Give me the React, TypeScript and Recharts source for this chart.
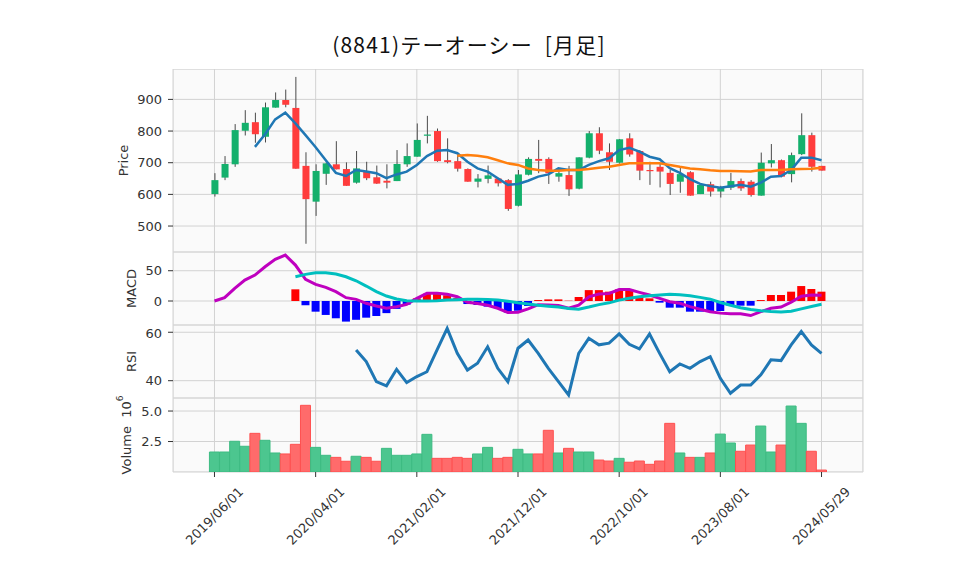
import React from 'react';
import { ComposedChart, Bar, Line, XAxis, YAxis, CartesianGrid, Cell } from 'recharts';

const DATES = [
  '2019/06/01','2019/07/01','2019/08/01','2019/09/01','2019/10/01','2019/11/01','2019/12/01',
  '2020/01/01','2020/02/01','2020/03/01','2020/04/01','2020/05/01','2020/06/01','2020/07/01','2020/08/01','2020/09/01','2020/10/01','2020/11/01','2020/12/01',
  '2021/01/01','2021/02/01','2021/03/01','2021/04/01','2021/05/01','2021/06/01','2021/07/01','2021/08/01','2021/09/01','2021/10/01','2021/11/01','2021/12/01',
  '2022/01/01','2022/02/01','2022/03/01','2022/04/01','2022/05/01','2022/06/01','2022/07/01','2022/08/01','2022/09/01','2022/10/01','2022/11/01','2022/12/01',
  '2023/01/01','2023/02/01','2023/03/01','2023/04/01','2023/05/01','2023/06/01','2023/07/01','2023/08/01','2023/09/01','2023/10/01','2023/11/01','2023/12/01',
  '2024/01/01','2024/02/01','2024/03/01','2024/04/01','2024/05/01','2024/05/29',
];

const OPEN = [601,653,695,801,828,782,874,898,873,690,577,665,695,680,637,672,654,643,642,695,719,786,800,708,705,680,640,649,650,645,564,662,712,712,656,661,618,716,793,733,700,777,737,677,687,668,640,670,601,632,609,621,642,640,596,698,708,664,727,787,690];
const HIGH = [667,721,822,866,858,890,922,931,971,733,695,700,768,701,737,703,691,695,740,761,824,848,808,777,724,682,664,691,652,648,677,717,772,717,674,690,717,800,812,761,775,793,740,703,698,677,687,673,634,640,627,668,650,645,732,759,710,732,856,795,690];
const LOW = [593,645,687,786,763,764,874,875,681,444,532,630,679,627,634,645,633,619,642,687,719,761,703,698,672,640,622,635,625,548,562,660,667,633,640,595,616,714,727,677,697,719,645,630,622,598,605,596,601,593,590,614,611,593,596,685,654,638,724,672,675];
const CLOSE = [645,696,803,826,790,875,898,883,681,585,674,698,679,627,682,651,634,637,696,721,772,789,705,702,681,640,650,660,635,554,663,712,706,667,667,616,717,793,738,703,774,726,675,674,672,633,664,596,630,609,621,642,619,598,700,708,656,724,787,687,675];

const MA5 = [null,null,null,null,750,790,837,858,824,787,749,708,668,658,677,672,667,651,663,672,693,721,738,740,730,703,682,672,651,630,633,643,656,663,682,677,677,693,705,714,740,747,735,719,711,683,668,648,633,626,621,626,630,624,637,656,658,677,716,716,708];
const MA25 = [null,null,null,null,null,null,null,null,null,null,null,null,null,null,null,null,null,null,null,null,null,null,null,null,722,724,722,717,708,698,693,682,677,675,675,677,677,680,684,687,693,698,698,698,698,693,687,682,679,676,674,674,673,672,677,677,677,679,680,681,684];

const MACD = [0,5.5,21,34.6,42.8,56.5,68.7,75.8,59.3,35.7,27.5,22.5,15.4,5.5,2.7,-3.8,-8.2,-12,-9.4,-5.5,4.4,12.7,12.7,11,7.1,-2.2,-4,-7,-12,-19,-18.5,-13,-6,-6.5,-7.5,-12,-7,7,11.5,12.5,19,19,14.3,9.9,4.4,-1.1,-3.8,-9.3,-13.7,-17.6,-20,-21,-21,-24,-17.6,-12,-10,-2,8,10,9.5];
const SIGNAL = [null,null,null,null,null,null,null,null,40,44,46.6,46.6,44.5,40,33.4,24.7,15.4,8.2,3.3,0.5,0,0,0.5,1.6,2.2,2.7,3,2.5,1.5,-0.5,-3,-5,-7,-8.5,-10,-12.5,-13.5,-10,-6,-3,1.5,4.5,7,8.8,10,11,10.5,8.8,6,3,-2.5,-7,-11,-14,-16,-17.5,-18,-17,-13,-9,-5.5];
const HIST = [null,null,null,null,null,null,null,null,19.3,-7,-17.6,-23,-28.5,-34,-31,-27.5,-24.7,-20,-13,-6,4.4,12,12,9.5,5,-5,-6.6,-9.3,-12,-19,-15.9,-8.2,1.6,2.7,2.7,0.5,6.6,18,18,15.4,19.3,19.3,7,4.4,-2.7,-11,-11,-17.6,-17.6,-17.6,-16.5,-7.7,-7.7,-7.7,1.6,9.9,9.9,15.4,24.7,19.8,15.4];

const RSI = [null,null,null,null,null,null,null,null,null,null,null,null,null,null,52.7,47.9,39.6,37.9,44.7,39.2,41.7,43.7,52.7,61.6,51.3,44.4,47.2,54,45.1,39.6,53.4,56.8,51.3,45.1,39.6,34.1,51.3,57.5,54.8,55.5,59.3,55,53.1,59.3,51.3,43.7,46.9,45.1,47.9,49.9,41,34.8,38.2,38.2,42.4,48.6,48.3,54.8,60.3,54.8,51.3];

const VOLUME = [1.64,1.64,2.52,2.11,3.17,2.6,1.56,1.48,2.27,5.47,2.02,1.37,1.2,0.88,1.29,1.2,0.88,1.94,1.37,1.37,1.48,3.09,1.12,1.12,1.2,1.12,1.48,2.02,1.12,1.2,1.86,1.48,1.48,3.42,1.56,1.94,1.64,1.64,0.98,0.9,1.12,0.8,0.9,0.63,0.9,3.99,1.56,1.2,1.2,1.56,3.11,2.38,1.7,2.21,3.77,1.64,2.21,5.41,3.99,1.7,0.16];

const TICK_IDX = [0, 10, 20, 30, 40, 50, 60];
const PRICE_TICKS = [500, 600, 700, 800, 900];
const MACD_TICKS = [0, 50];
const RSI_TICKS = [40, 60];
const VOL_TICKS = [2.5, 5.0];
const TITLE = '(8841)テーオーシー\u00a0\u00a0[月足]';

const rows = DATES.map((date, i) => ({
  idx: i,
  date,
  open: OPEN[i],
  high: HIGH[i],
  low: LOW[i],
  close: CLOSE[i],
  ma5: MA5[i],
  ma25: MA25[i],
  macd: MACD[i],
  signal: SIGNAL[i],
  hist: HIST[i],
  rsi: RSI[i],
  vol: VOLUME[i],
}));

const FONT = 'DejaVu Sans, sans-serif';
const TICK_STYLE = { fontSize: 13, fill: '#333', fontFamily: FONT };
const W = 950;
const YW = 165;
const MR = 95;
const XDOMAIN: [number, number] = [-4.1, 64.1];

const Candle = (props: any) => {
  const { x, y, width, height, payload } = props;
  if (!payload || x == null) return null;
  const { open, close, high, low } = payload;
  const top = Math.min(y, y + height);
  const h = Math.abs(height);
  const cx = x + width / 2;
  const range = high - low;
  const py = (v: number) => (range === 0 ? top : top + ((high - v) / range) * h);
  const up = close >= open;
  const color = up ? '#14b06c' : '#ff3c3c';
  const bt = py(Math.max(open, close));
  const bb = py(Math.min(open, close));
  return (
    <g>
      <line x1={cx} x2={cx} y1={top} y2={top + h} stroke="#4a4a4a" strokeWidth={1} />
      <rect x={cx - 3.5} y={bt} width={7} height={Math.max(bb - bt, 1.2)} fill={color} />
    </g>
  );
};

const DateTick = (props: any) => {
  const { x, y, payload } = props;
  const label = DATES[payload.value] ?? '';
  const cy = y + 37;
  return (
    <text
      x={x}
      y={cy}
      textAnchor="middle"
      dominantBaseline="central"
      transform={`rotate(-45 ${x} ${cy})`}
      style={TICK_STYLE as any}
      fill="#333"
    >
      {label}
    </text>
  );
};

const yLabel = (text: string, xPos: number) => (p: any) => {
  const vb = p.viewBox || {};
  const cy = (vb.y ?? 0) + (vb.height ?? 0) / 2;
  return (
    <text
      x={xPos}
      y={cy}
      textAnchor="middle"
      dominantBaseline="central"
      transform={`rotate(-90 ${xPos} ${cy})`}
      style={{ fontSize: 13, fontFamily: FONT }}
      fill="#333"
    >
      {text}
    </text>
  );
};

const panelBg = (top: number, height: number): React.CSSProperties => ({
  position: 'absolute',
  left: YW,
  top,
  width: W - YW - MR,
  height,
  background: '#fafafa',
  boxShadow: 'inset 0 0 0 1px #ececec',
});

const gridProps = { stroke: '#d2d2d2', strokeWidth: 1 };

export default function App() {
  const common = {
    data: rows,
    margin: { top: 0, right: MR, bottom: 0, left: 0 },
  };
  return (
    <div style={{ position: 'relative', width: W, height: 567, fontFamily: FONT }}>
      <svg style={{ position: 'absolute', left: 0, top: 0 }} width={W} height={60}>
        <text
          x={461}
          y={45}
          textAnchor="middle"
          style={{ fontSize: 21, letterSpacing: 1.2, fontFamily: 'Noto Sans CJK JP, sans-serif' }}
          fill="#111"
        >
          {TITLE}
        </text>
      </svg>

      <div style={panelBg(61, 183)} />
      <div style={panelBg(244, 73)} />
      <div style={panelBg(317, 73)} />
      <div style={panelBg(390, 74)} />

      <div style={{ position: 'absolute', left: 0, top: 61 }}>
        <ComposedChart width={W} height={183} {...common}>
          <CartesianGrid {...gridProps} />
          <XAxis type="number" dataKey="idx" domain={XDOMAIN} ticks={TICK_IDX} allowDataOverflow hide />
          <YAxis
            width={YW}
            domain={[418, 996]}
            ticks={PRICE_TICKS}
            allowDataOverflow
            axisLine={false}
            tickSize={5}
            tickMargin={6}
            tickLine={{ stroke: '#333' }}
            tick={TICK_STYLE}
            label={{ content: yLabel('Price', 115) }}
          />
          <Bar dataKey={(d: any) => [d.low, d.high]} shape={<Candle />} barSize={7} isAnimationActive={false} />
          <Line dataKey="ma5" stroke="#1f77b4" strokeWidth={2.5} dot={false} isAnimationActive={false} />
          <Line dataKey="ma25" stroke="#ff7f0e" strokeWidth={2.5} dot={false} isAnimationActive={false} />
        </ComposedChart>
      </div>

      <div style={{ position: 'absolute', left: 0, top: 244 }}>
        <ComposedChart width={W} height={73} {...common}>
          <CartesianGrid {...gridProps} />
          <XAxis type="number" dataKey="idx" domain={XDOMAIN} ticks={TICK_IDX} allowDataOverflow hide />
          <YAxis
            width={YW}
            domain={[-39.6, 80.9]}
            ticks={MACD_TICKS}
            allowDataOverflow
            axisLine={false}
            tickSize={5}
            tickMargin={6}
            tickLine={{ stroke: '#333' }}
            tick={TICK_STYLE}
            label={{ content: yLabel('MACD', 123) }}
          />
          <Bar dataKey="hist" barSize={8} isAnimationActive={false}>
            {rows.map((r, i) => (
              <Cell key={i} fill={(r.hist ?? 0) >= 0 ? '#ff0000' : '#0000ff'} />
            ))}
          </Bar>
          <Line dataKey="macd" stroke="#bf00bf" strokeWidth={3} dot={false} isAnimationActive={false} />
          <Line dataKey="signal" stroke="#00bfbf" strokeWidth={3} dot={false} isAnimationActive={false} />
        </ComposedChart>
      </div>

      <div style={{ position: 'absolute', left: 0, top: 317 }}>
        <ComposedChart width={W} height={73} {...common}>
          <CartesianGrid {...gridProps} />
          <XAxis type="number" dataKey="idx" domain={XDOMAIN} ticks={TICK_IDX} allowDataOverflow hide />
          <YAxis
            width={YW}
            domain={[32.85, 63.0]}
            ticks={RSI_TICKS}
            allowDataOverflow
            axisLine={false}
            tickSize={5}
            tickMargin={6}
            tickLine={{ stroke: '#333' }}
            tick={TICK_STYLE}
            label={{ content: yLabel('RSI', 123) }}
          />
          <Line dataKey="rsi" stroke="#1f77b4" strokeWidth={3} dot={false} isAnimationActive={false} />
        </ComposedChart>
      </div>

      <div style={{ position: 'absolute', left: 0, top: 390 }}>
        <ComposedChart width={W} height={174} {...common}>
          <CartesianGrid {...gridProps} />
          <XAxis
            type="number"
            dataKey="idx"
            domain={XDOMAIN}
            ticks={TICK_IDX}
            allowDataOverflow
            height={100}
            axisLine={false}
            tickSize={5}
            tickLine={{ stroke: '#333' }}
            tick={<DateTick />}
          />
          <YAxis
            width={YW}
            domain={[0, 6.07]}
            ticks={VOL_TICKS}
            allowDataOverflow
            axisLine={false}
            tickSize={5}
            tickMargin={6}
            tickLine={{ stroke: '#333' }}
            tick={TICK_STYLE}
            tickFormatter={(v: number) => v.toFixed(1)}
          />
          <Bar dataKey="vol" barSize={10} isAnimationActive={false}>
            {rows.map((r, i) => {
              const up = i === 0 || r.close >= CLOSE[i - 1];
              return (
                <Cell
                  key={i}
                  fill={up ? '#4cc68f' : '#ff6b6b'}
                  stroke={up ? '#3dbb82' : '#ff5050'}
                  strokeWidth={1}
                />
              );
            })}
          </Bar>
        </ComposedChart>
      </div>

      <svg style={{ position: 'absolute', left: 90, top: 380 }} width={50} height={100}>
        <text
          x={28}
          y={47}
          textAnchor="middle"
          dominantBaseline="central"
          transform="rotate(-90 28 47)"
          style={{ fontSize: 13, fontFamily: FONT }}
          fill="#333"
        >
          Volume{'\u00a0\u00a0'}10<tspan dy={-6} style={{ fontSize: 9 }}>6</tspan>
        </text>
      </svg>
    </div>
  );
}
